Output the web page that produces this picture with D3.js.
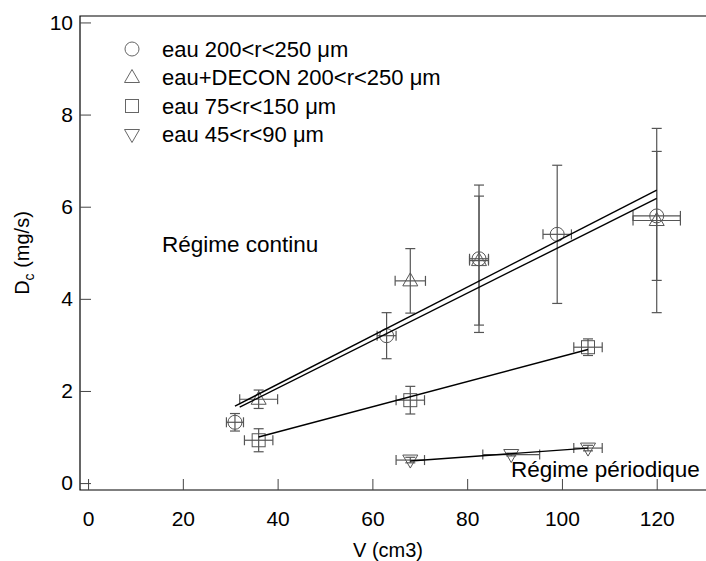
<!DOCTYPE html>
<html>
<head>
<meta charset="utf-8">
<script src="https://cdn.jsdelivr.net/npm/d3@7"></script>
<style>
  body { margin: 0; background: #fff; }
  svg { display: block; font-family: "Liberation Sans", Arial, sans-serif; }
</style>
</head>
<body>
<div id="chart"></div>
<script>
// eau 200<r<250 µm (circles)
const circleV = [31, 63, 82.5, 99, 120];
const circleD = [1.32, 3.2, 4.87, 5.4, 5.8];
const circleDErr = [0.19, 0.5, 1.6, 1.5, 1.4];
const circleVErr = [1.8, 2, 2, 3, 5];

// eau+DECON 200<r<250 µm (triangles)
const triV = [36, 68, 82.5, 120];
const triD = [1.82, 4.39, 4.83, 5.7];
const triDErr = [0.2, 0.7, 1.4, 2.0];
const triVErr = [4, 3.2, 2, 5];

// eau 75<r<150 µm (squares)
const squareV = [36, 68, 105.5];
const squareD = [0.93, 1.8, 2.95];
const squareDErr = [0.25, 0.3, 0.18];
const squareVErr = [3, 3, 3];

// eau 45<r<90 µm (down triangles)
const downV = [68, 89.3, 105.5];
const downD = [0.5, 0.62, 0.76];
const downDErr = [0.06, 0.03, 0.06];
const downVErr = [3, 6, 3];

// fitted lines
const fitUpperV = [31, 120], fitUpperD = [1.67, 6.36];
const fitLowerV = [32, 120], fitLowerD = [1.65, 6.18];
const fitSquareV = [36, 105.5], fitSquareD = [1.0, 2.9];
const fitDownV = [68, 105.5], fitDownD = [0.48, 0.76];

const xTicks = [0, 20, 40, 60, 80, 100, 120];
const yTicks = [0, 2, 4, 6, 8, 10];
const legendLabels = ["eau 200<r<250 \u03bcm", "eau+DECON 200<r<250 \u03bcm", "eau 75<r<150 \u03bcm", "eau 45<r<90 \u03bcm"];

const width = 706, height = 561;
const svg = d3.select("#chart").append("svg")
  .attr("width", width).attr("height", height);

const x = d3.scaleLinear().domain([-1.7, 130.4]).range([80, 706]);
const y = d3.scaleLinear().domain([-0.15, 10.14]).range([490, 16]);

const grey = "#555";

// frame
svg.append("path")
  .attr("d", `M${x.range()[1]},${y.range()[1]}H80V${y.range()[0]}H${x.range()[1]}`)
  .attr("fill", "none").attr("stroke", "#000").attr("stroke-width", 1.2);

// x axis (ticks point inward)
const xAxis = svg.append("g")
  .attr("transform", `translate(0,${y.range()[0]})`)
  .call(d3.axisBottom(x).tickValues(xTicks).tickSize(-11).tickPadding(21));
xAxis.select(".domain").remove();
xAxis.selectAll("line").attr("stroke", "#444");
xAxis.selectAll("text").attr("font-size", 21).attr("fill", "#000")
  .attr("font-family", "Liberation Sans, Arial, sans-serif");

// y axis
const yAxis = svg.append("g")
  .attr("transform", `translate(80,0)`)
  .call(d3.axisLeft(y).tickValues(yTicks).tickSize(-11).tickPadding(7));
yAxis.select(".domain").remove();
yAxis.selectAll("line").attr("stroke", "#444");
yAxis.selectAll("text").attr("font-size", 21).attr("fill", "#000")
  .attr("font-family", "Liberation Sans, Arial, sans-serif");

// axis titles
svg.append("text")
  .attr("x", 388).attr("y", 557)
  .attr("text-anchor", "middle").attr("font-size", 20)
  .text("V (cm3)");

const yTitle = svg.append("text")
  .attr("transform", "translate(29,253) rotate(-90)")
  .attr("text-anchor", "middle").attr("font-size", 20);
yTitle.append("tspan").text("D");
yTitle.append("tspan").attr("font-size", 14).attr("dy", 5).text("c");
yTitle.append("tspan").attr("dy", -5).text(" (mg/s)");

// marker shapes
const shapes = {
  circle: g => g.append("circle").attr("r", 7),
  tri: g => g.append("path").attr("d", "M0,-8L7.5,5L-7.5,5Z"),
  square: g => g.append("rect").attr("x", -6.5).attr("y", -6.5).attr("width", 13).attr("height", 13),
  down: g => g.append("path").attr("d", "M0,8L7.5,-5L-7.5,-5Z")
};

function drawSeries(vs, ds, dErr, vErr, shape) {
  const pts = vs.map((v, i) => ({ v, d: ds[i], de: dErr[i], ve: vErr[i] }));
  const g = svg.append("g").attr("stroke", grey).attr("fill", "none").attr("stroke-width", 1.2);
  pts.forEach(p => {
    const cx = x(p.v), cy = y(p.d);
    const y1 = y(p.d + p.de), y2 = y(p.d - p.de);
    const x1 = x(p.v - p.ve), x2 = x(p.v + p.ve);
    g.append("line").attr("x1", cx).attr("x2", cx).attr("y1", y1).attr("y2", y2);
    g.append("line").attr("x1", cx - 5).attr("x2", cx + 5).attr("y1", y1).attr("y2", y1);
    g.append("line").attr("x1", cx - 5).attr("x2", cx + 5).attr("y1", y2).attr("y2", y2);
    g.append("line").attr("x1", x1).attr("x2", x2).attr("y1", cy).attr("y2", cy);
    g.append("line").attr("x1", x1).attr("x2", x1).attr("y1", cy - 5).attr("y2", cy + 5);
    g.append("line").attr("x1", x2).attr("x2", x2).attr("y1", cy - 5).attr("y2", cy + 5);
    const m = g.append("g").attr("transform", `translate(${cx},${cy})`).attr("stroke-width", 1);
    shapes[shape](m);
  });
}

drawSeries(circleV, circleD, circleDErr, circleVErr, "circle");
drawSeries(triV, triD, triDErr, triVErr, "tri");
drawSeries(squareV, squareD, squareDErr, squareVErr, "square");
drawSeries(downV, downD, downDErr, downVErr, "down");

// fit lines
const line = d3.line().x(d => x(d[0])).y(d => y(d[1]));
[[fitUpperV, fitUpperD], [fitLowerV, fitLowerD], [fitSquareV, fitSquareD], [fitDownV, fitDownD]]
  .forEach(([vs, ds]) => {
    svg.append("path")
      .attr("d", line(vs.map((v, i) => [v, ds[i]])))
      .attr("fill", "none").attr("stroke", "#000").attr("stroke-width", 1.4);
  });

// legend
const legendShapes = ["circle", "tri", "square", "down"];
const legend = svg.append("g");
legendLabels.forEach((lab, i) => {
  const ly = 49 + i * 28.5;
  const m = legend.append("g").attr("transform", `translate(132,${ly})`)
    .attr("stroke", "#666").attr("fill", "none").attr("stroke-width", 1);
  shapes[legendShapes[i]](m);
  legend.append("text").attr("x", 162).attr("y", ly + 7.5)
    .attr("font-size", 22).text(lab);
});

// annotations
svg.append("text").attr("x", 162).attr("y", 252).attr("font-size", 22.5).text("Régime continu");
svg.append("text").attr("x", 511).attr("y", 477).attr("font-size", 22.5).text("Régime périodique");
</script>
</body>
</html>
